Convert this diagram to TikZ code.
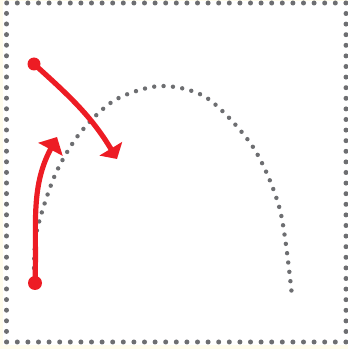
\documentclass[tikz,border=0pt]{standalone}
\usetikzlibrary{arrows.meta}
\definecolor{cream}{HTML}{FFFCEC}
\definecolor{dotgray}{HTML}{6D6E71}
\definecolor{arrowred}{HTML}{ED1C24}
\tikzset{
  frame/.style = {dotgray, line width=5pt, line cap=round, dash pattern=on 0pt off 10.6pt},
  path/.style  = {dotgray, line width=4.4pt, line cap=round, dash pattern=on 0pt off 9.4pt},
  move/.style  = {arrowred, line width=5.2pt},
  dot/.style   = {arrowred},
}

\begin{document}
\begin{tikzpicture}[x=1pt,y=1pt]
  \useasboundingbox (0,0) rectangle (348,349);
  \fill[cream] (0,0) rectangle (348,349);
  \fill[white] (3,4) rectangle (348,348);
  \draw[frame] (6.5,7) rectangle (346,346);
  % trajectory
  \draw[path] plot[smooth] coordinates {(34,81) (37,119) (55,174) (80,216) (115,249)
    (161,263) (207,251) (253,202) (280,139) (292,53)};
  % red moves
  \coordinate (a) at (34,285);
  \coordinate (b) at (117,190);
  \coordinate (c) at (35,66);
  \coordinate (d) at (57,212);
  \draw[move,-{Triangle[length=12pt,width=26pt]}] (a) to[out=-42,in=121] (b);
  \draw[move,-{Triangle[length=14pt,width=27pt]}] (c) to[out=88,in=242] (d);
  \fill[dot] (a) circle (6.5pt);
  \fill[dot] (c) circle (7pt);
\end{tikzpicture}
\end{document}
